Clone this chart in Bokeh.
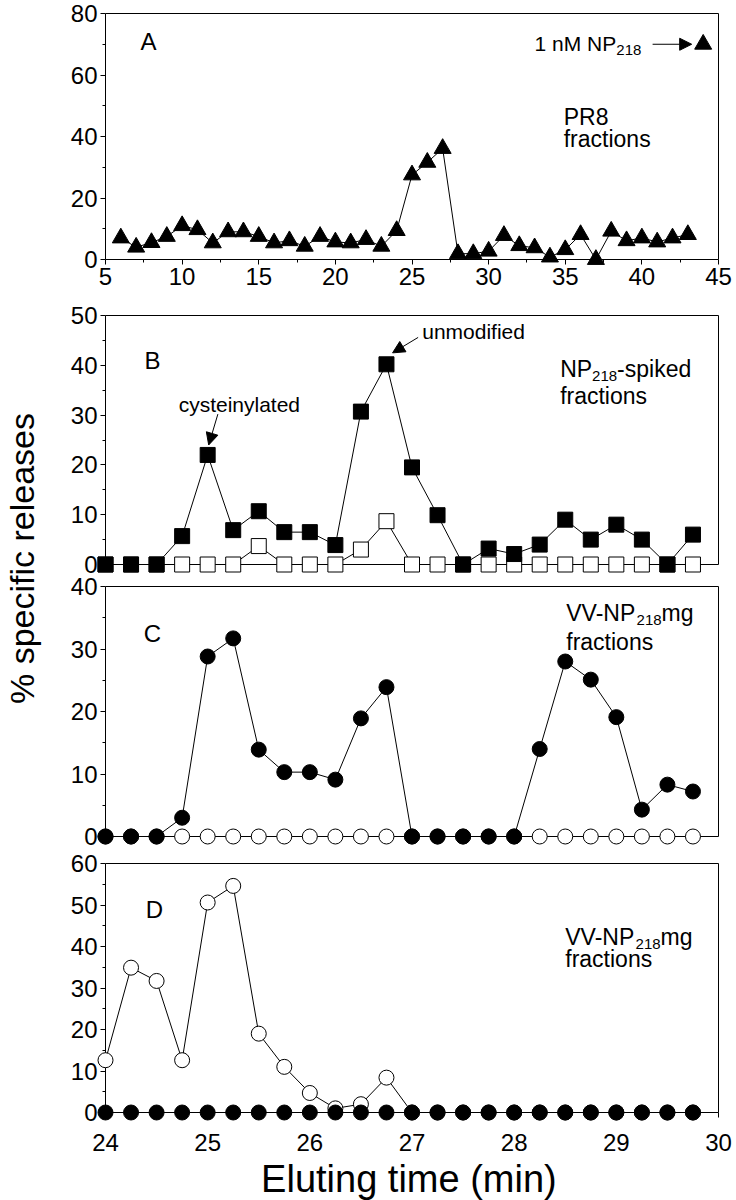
import math
from bokeh.plotting import figure
from bokeh.models import Range1d, LinearAxis, FixedTicker, Label, Arrow, NormalHead
from bokeh.layouts import row, column
from bokeh.embed import file_html
from bokeh.resources import INLINE

FONT = "Liberation Sans"

# ---------------- data ----------------
# Panel A: PR8 fractions (fraction number) vs % specific release
a_fraction = [6, 7, 8, 9, 10, 11, 12, 13, 14, 15, 16, 17, 18, 19, 20, 21, 22, 23, 24, 25,
              26, 27, 28, 29, 30, 31, 32, 33, 34, 35, 36, 37, 38, 39, 40, 41, 42, 43]
a_release = [7, 4, 5.5, 7.5, 11, 9.7, 5.4, 9, 9, 7.5, 5.4, 6.1, 4.3, 7.5, 5.7, 5.4, 6.5, 4.3, 9.4, 27.5,
             31.6, 36.1, 1.9, 1.9, 2.7, 7.8, 4.5, 3.8, 0.8, 3.2, 8.1, 0, 9.2, 6.1, 7, 5.7, 7, 8.1]
a_std_fraction = [44]
a_std_release = [70]

# Panels B-D: eluting time (min)
elution_time = [24.0, 24.25, 24.5, 24.75, 25.0, 25.25, 25.5, 25.75, 26.0, 26.25, 26.5, 26.75,
                27.0, 27.25, 27.5, 27.75, 28.0, 28.25, 28.5, 28.75, 29.0, 29.25, 29.5, 29.75]
b_spiked = [0, 0, 0, 5.7, 22, 6.9, 10.7, 6.5, 6.5, 3.9, 30.7, 40.2,
            19.5, 9.9, 0, 3.2, 2.1, 4, 9, 5, 8, 5, 0, 6]
b_control = [0, 0, 0, 0, 0, 0, 3.7, 0, 0, 0, 3, 8.7,
             0, 0, 0, 0, 0, 0, 0, 0, 0, 0, 0, 0]
c_filled = [0, 0, 0, 3, 28.8, 31.7, 13.9, 10.3, 10.3, 9.1, 18.9, 23.9,
            0, 0, 0, 0, 0, 14, 28, 25.1, 19.1, 4.3, 8.3, 7.2]
c_open = [0, 0, 0, 0, 0, 0, 0, 0, 0, 0, 0, 0,
          0, 0, 0, 0, 0, 0, 0, 0, 0, 0, 0, 0]
d_open = [12.6, 34.9, 31.7, 12.6, 50.6, 54.6, 19, 11, 4.7, 1, 2, 8.4,
          0, 0, 0, 0, 0, 0, 0, 0, 0, 0, 0, 0]
d_filled = [0, 0, 0, 0, 0, 0, 0, 0, 0, 0, 0, 0,
            0, 0, 0, 0, 0, 0, 0, 0, 0, 0, 0, 0]

a_x_ticks = [5, 10, 15, 20, 25, 30, 35, 40, 45]
a_x_minor = [7.5, 12.5, 17.5, 22.5, 27.5, 32.5, 37.5, 42.5]
a_y_ticks = [0, 20, 40, 60, 80]
a_y_minor = [10, 30, 50, 70]
b_y_ticks = [0, 10, 20, 30, 40, 50]
b_y_minor = [5, 15, 25, 35, 45]
c_y_ticks = [0, 10, 20, 30, 40]
c_y_minor = [5, 15, 25, 35]
d_y_ticks = [0, 10, 20, 30, 40, 50, 60]
d_y_minor = [5, 15, 25, 35, 45, 55]
time_ticks = [24, 25, 26, 27, 28, 29, 30]

# ---------------- layout helpers ----------------
LABEL_W = 48           # width of the strip holding the shared y title
PW = 736 - LABEL_W     # width of the panel figures
X0_PX = 105 - LABEL_W  # canvas x of the left end of the x range
X1_PX = 718 - LABEL_W  # canvas x of the right end of the x range


def x_range_for(x0, x1):
    sx = (x1 - x0) / (X1_PX - X0_PX)
    return Range1d(x0 - X0_PX * sx, x1 + (PW - X1_PX) * sx)


def y_range_for(ymax, fig_top, fig_bottom, top_px, zero_px):
    sy = ymax / (zero_px - top_px)
    return Range1d(-(fig_bottom - zero_px) * sy, ymax + (top_px - fig_top) * sy), sy


def make_fig(xr, yr, h):
    # frame covers the whole canvas; all axes are pinned with fixed_location
    p = figure(width=PW, height=h, x_range=xr, y_range=yr,
               x_axis_type=None, y_axis_type=None,
               output_backend="svg", toolbar_location=None,
               min_border_left=0, min_border_right=0, min_border_top=0, min_border_bottom=0)
    p.outline_line_color = None
    p.background_fill_color = "white"
    p.border_fill_color = "white"
    return p


def add_axis(p, side, fixed, bounds, ticks=(), minor=(), line=True, level="guide",
             standoff=3, yr="default"):
    ax = LinearAxis(ticker=FixedTicker(ticks=list(ticks), minor_ticks=list(minor)),
                    y_range_name=yr)
    ax.bounds = bounds
    ax.fixed_location = fixed
    ax.axis_line_color = "black" if line else None
    ax.axis_line_width = 1
    ax.major_tick_in = 0
    ax.major_tick_out = 5 if ticks else 0
    ax.minor_tick_in = 0
    ax.minor_tick_out = 3 if minor else 0
    ax.major_tick_line_color = "black"
    ax.minor_tick_line_color = "black"
    ax.major_label_text_font = FONT
    ax.major_label_text_font_size = "24px"
    ax.major_label_text_color = "black"
    ax.major_label_standoff = standoff if ticks else 0
    ax.level = level
    p.add_layout(ax, side)
    return ax


def frame_box(p, x0, x1, ymax, yticks, yminor, xticks=(), xminor=(), x_standoff=3,
              underlay=False, yr="default"):
    if underlay:
        add_axis(p, "left", x0, (0, ymax), yticks, yminor, line=False, yr=yr)
        add_axis(p, "left", x0, (0, ymax), level="underlay", yr=yr)
    else:
        add_axis(p, "left", x0, (0, ymax), yticks, yminor, yr=yr)
    if xticks:
        add_axis(p, "below", 0, (x0, x1), xticks, xminor, standoff=x_standoff, yr=yr)
    else:
        add_axis(p, "below", 0, (x0, x1), level="underlay", yr=yr)
    add_axis(p, "above", ymax, (x0, x1), yr=yr)
    add_axis(p, "right", x1, (0, ymax), yr=yr)


def label(p, x, y, text, size, align="left", baseline="middle", xo=0, yo=0, yr="default"):
    p.add_layout(Label(x=x, y=y, text=text, text_font=FONT, text_font_size=f"{size}px",
                       text_align=align, text_baseline=baseline, x_offset=xo, y_offset=yo,
                       text_color="black", y_range_name=yr))


def arrow(p, xs, ys, xe, ye):
    p.add_layout(Arrow(end=NormalHead(size=12, fill_color="black", line_color="black", line_width=1),
                       x_start=xs, y_start=ys, x_end=xe, y_end=ye,
                       line_color="black", line_width=1))


# Liberation Sans (Arial metric) advance widths, em, for composing subscripts
ADV = {"N": .722, "P": .667, "V": .667, "-": .333, "1": .556, "2": .556, "8": .556,
       " ": .278, "n": .556, "M": .833}


def width(s, size):
    return sum(ADV[c] for c in s) * size


def sub_text(p, x, y, pre, sub, post, size, sub_size, yr="default"):
    label(p, x, y, pre, size, yr=yr)
    w = width(pre, size)
    label(p, x, y, sub, sub_size, xo=w, yo=-size * 0.3, yr=yr)
    if post:
        label(p, x, y, post, size, xo=w + width(sub, sub_size), yr=yr)


def series(p, x, y, marker, filled, yr="default"):
    p.line(x, y, line_color="black", line_width=1, y_range_name=yr)
    p.scatter(x, y, marker=marker, size=17 if marker == "triangle" else 15,
              fill_color="black" if filled else "white", line_color="black", y_range_name=yr)


# ---------------- panel A (own figure: its own x scale) ----------------
yr_a, _ = y_range_for(80, 0, 300, 13, 259)
pa = make_fig(x_range_for(5, 45), yr_a, 300)
frame_box(pa, 5, 45, 80, a_y_ticks, a_y_minor, a_x_ticks, a_x_minor, x_standoff=3)
series(pa, a_fraction, a_release, "triangle", True)
pa.scatter(a_std_fraction, a_std_release, marker="triangle", size=17, fill_color="black", line_color="black")
label(pa, 7.8, 71, "A", 24, align="center")
sub_text(pa, 33.0, 70.3, "1 nM NP", "218", "", 21, 15)
arrow(pa, 40.7, 70, 43.25, 70)
label(pa, 34.9, 46.4, "PR8", 23)
label(pa, 34.9, 39.2, "fractions", 23)

# ---------------- panels B, C, D (shared time axis, one figure) ----------------
TOP, BOTTOM = 300, 1200
yr_b, syb = y_range_for(50, TOP, BOTTOM, 315, 564)
yr_c, syc = y_range_for(40, TOP, BOTTOM, 586, 836)
yr_d, syd = y_range_for(60, TOP, BOTTOM, 863, 1112)
pt = make_fig(x_range_for(24, 30), yr_b, BOTTOM - TOP)
pt.extra_y_ranges = {"c": yr_c, "d": yr_d}

# B
frame_box(pt, 24, 30, 50, b_y_ticks, b_y_minor, underlay=True)
series(pt, elution_time, b_control, "square", False)
series(pt, elution_time, b_spiked, "square", True)
label(pt, 24.46, 40.9, "B", 24, align="center")
sub_text(pt, 28.45, 39.3, "NP", "218", "-spiked", 23, 15)
label(pt, 28.45, 33.9, "fractions", 23)
label(pt, 25.31, 32.2, "cysteinylated", 21, align="center")
arrow(pt, 25.10, 30.2, 25.01, 24.0)
label(pt, 27.10, 46.8, "unmodified", 21)
arrow(pt, 27.06, 45.6, 26.81, 42.5)

# C
frame_box(pt, 24, 30, 40, c_y_ticks, c_y_minor, underlay=True, yr="c")
series(pt, elution_time, c_open, "circle", False, yr="c")
series(pt, elution_time, c_filled, "circle", True, yr="c")
label(pt, 24.46, 32.5, "C", 24, align="center", yr="c")
sub_text(pt, 28.51, 35.7, "VV-NP", "218", "mg", 23, 15, yr="c")
label(pt, 28.51, 31.2, "fractions", 23, yr="c")

# D
frame_box(pt, 24, 30, 60, d_y_ticks, d_y_minor, time_ticks, (), x_standoff=16, underlay=True, yr="d")
series(pt, elution_time, d_open, "circle", False, yr="d")
series(pt, elution_time, d_filled, "circle", True, yr="d")
label(pt, 24.48, 49.0, "D", 24, align="center", yr="d")
sub_text(pt, 28.50, 42.2, "VV-NP", "218", "mg", 23, 15, yr="d")
label(pt, 28.50, 37.0, "fractions", 23, yr="d")
label(pt, 26.97, -(1178 - 1112) * syd, "Eluting time (min)", 38, align="center", yr="d")

# ---------------- shared y-axis title ----------------
TOTAL_H = 1200
pl = figure(width=LABEL_W, height=TOTAL_H, x_range=Range1d(0, LABEL_W), y_range=Range1d(0, TOTAL_H),
            x_axis_type=None, y_axis_type=None, output_backend="svg", toolbar_location=None,
            min_border_left=0, min_border_right=0, min_border_top=0, min_border_bottom=0)
pl.outline_line_color = None
pl.add_layout(Label(x=21, y=TOTAL_H - 558, text="% specific releases", angle=math.pi / 2,
                    text_font=FONT, text_font_size="34px", text_align="center",
                    text_baseline="middle", text_color="black"))

layout = row(pl, column(pa, pt))
open("out.html", "w").write(file_html(layout, INLINE))
